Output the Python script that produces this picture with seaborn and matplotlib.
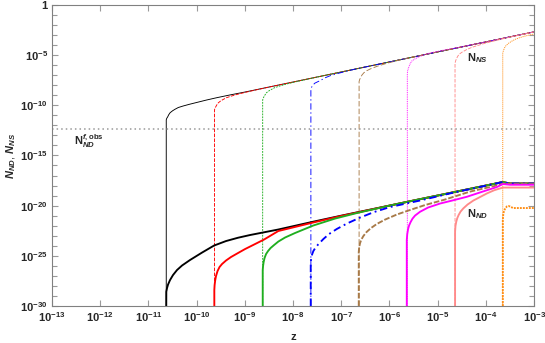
import numpy as np
import pandas as pd
import seaborn as sns
import matplotlib
matplotlib.use("Agg")
import matplotlib.pyplot as plt
from matplotlib.ticker import FixedLocator, NullFormatter

sns.set_style("ticks")
plt.rcParams["font.family"] = ["Liberation Sans", "DejaVu Sans"]
plt.rcParams["mathtext.fontset"] = "custom"
plt.rcParams["mathtext.rm"] = "Liberation Sans:bold"
plt.rcParams["mathtext.bf"] = "Liberation Sans:bold"
plt.rcParams["mathtext.it"] = "Liberation Sans:italic:bold"

# log10(z), log10(N)
# upper family: N_NS
ns_black = ([-10.63, -10.63, -10.62, -10.6, -10.58, -10.55, -10.5, -10.45, -10.38, -10.28, -10.15, -10.0, -9.8, -9.58, -9.3, -9.0, -8.3, -7.0, -5.0, -3.0],
            [-30.0, -11.45, -11.3, -11.15, -10.95, -10.74, -10.55, -10.4, -10.22, -10.07, -9.9, -9.72, -9.48, -9.24, -8.96, -8.68, -7.98, -6.68, -4.68, -2.68])
ns_red = ([-9.63, -9.63, -9.62, -9.6, -9.58, -9.55, -9.5, -9.45, -9.38, -9.28, -9.15, -9.0, -8.8, -8.6, -8.3, -8.0, -6.0, -4.0, -3.0],
          [-30.0, -10.47, -10.3, -10.12, -9.95, -9.75, -9.56, -9.42, -9.24, -9.08, -8.9, -8.72, -8.5, -8.29, -7.98, -7.68, -5.68, -3.68, -2.68])
ns_green = ([-8.63, -8.63, -8.62, -8.6, -8.58, -8.55, -8.5, -8.45, -8.38, -8.28, -8.15, -8.0, -7.8, -7.6, -7.3, -7.0, -5.0, -3.0],
            [-30.0, -9.47, -9.3, -9.12, -8.95, -8.74, -8.56, -8.42, -8.24, -8.08, -7.9, -7.72, -7.5, -7.29, -6.98, -6.68, -4.68, -2.68])
ns_blue = ([-7.63, -7.63, -7.61, -7.58, -7.55, -7.5, -7.43, -7.33, -7.23, -7.05, -6.89, -6.7, -6.5, -6.0, -4.0, -3.0],
           [-30.0, -8.4, -8.15, -7.95, -7.8, -7.68, -7.52, -7.25, -7.05, -6.8, -6.6, -6.38, -6.18, -5.68, -3.68, -2.68])
ns_brown = ([-6.63, -6.63, -6.62, -6.6, -6.57, -6.53, -6.47, -6.4, -6.25, -6.06, -5.82, -5.5, -5.0, -3.0],
            [-30.0, -7.64, -7.45, -7.25, -6.98, -6.75, -6.55, -6.38, -6.1, -5.82, -5.52, -5.18, -4.68, -2.68])
ns_magenta = ([-5.63, -5.63, -5.62, -5.6, -5.57, -5.54, -5.48, -5.4, -5.3, -5.19, -4.9, -4.6, -4.0, -3.0],
              [-30.0, -6.8, -6.5, -6.2, -5.85, -5.6, -5.4, -5.2, -5.0, -4.82, -4.52, -4.26, -3.68, -2.68])
ns_pink = ([-4.64, -4.64, -4.63, -4.61, -4.58, -4.55, -4.5, -4.4, -4.29, -4.05, -3.81, -3.5, -3.0],
           [-30.0, -5.82, -5.6, -5.35, -5.08, -4.9, -4.72, -4.45, -4.22, -3.86, -3.56, -3.2, -2.68])
ns_orange = ([-3.65, -3.65, -3.64, -3.62, -3.6, -3.57, -3.52, -3.46, -3.39, -3.3, -3.2, -3.1, -3.0],
             [-30.0, -4.82, -4.6, -4.35, -4.15, -3.99, -3.78, -3.6, -3.42, -3.26, -3.12, -3.0, -2.89])

# lower family: N_ND
nd_black = ([-10.63, -10.629, -10.614, -10.593, -10.552, -10.49, -10.407, -10.303, -10.137, -9.888, -9.639, -9.39, -9.141, -8.892, -8.305, -7.579, -7.0, -5.61, -3.65, -3.5, -3.0],
            [-30.0, -28.58, -28.22, -27.87, -27.42, -26.92, -26.42, -25.97, -25.42, -24.68, -23.98, -23.53, -23.2, -22.93, -22.38, -21.6, -21.0, -19.6, -17.65, -17.8, -17.8])
nd_red = ([-9.633, -9.633, -9.627, -9.614, -9.598, -9.566, -9.525, -9.473, -9.39, -9.286, -9.162, -8.996, -8.809, -8.602, -8.305, -7.579, -7.0, -5.61, -3.65, -3.5, -3.0],
          [-30.0, -28.41, -27.92, -27.42, -27.02, -26.52, -26.12, -25.82, -25.47, -25.12, -24.78, -24.33, -23.88, -23.38, -22.53, -21.68, -21.03, -19.6, -17.65, -17.8, -17.8])
nd_green = ([-8.629, -8.629, -8.622, -8.61, -8.591, -8.56, -8.519, -8.467, -8.394, -8.305, -8.166, -7.959, -7.579, -7.129, -6.678, -5.988, -5.61, -3.65, -3.5, -3.0],
            [-30.0, -26.42, -26.02, -25.62, -25.22, -24.83, -24.53, -24.23, -23.93, -23.58, -23.18, -22.73, -21.98, -21.29, -20.74, -19.99, -19.6, -17.65, -17.8, -17.8])
nd_blue = ([-7.633, -7.633, -7.622, -7.606, -7.579, -7.544, -7.481, -7.371, -7.253, -7.093, -6.88, -6.61, -6.32, -5.988, -5.365, -4.743, -3.65, -3.5, -3.0],
           [-30.0, -25.62, -25.22, -24.88, -24.53, -24.26, -23.88, -23.33, -22.83, -22.33, -21.78, -21.19, -20.64, -20.14, -19.49, -18.78, -17.65, -17.8, -17.8])
nd_brown = ([-6.637, -6.637, -6.627, -6.61, -6.583, -6.541, -6.475, -6.382, -6.263, -6.091, -5.849, -5.608, -5.261, -4.846, -4.328, -3.71, -3.643, -3.5, -3.0],
            [-30.0, -24.63, -24.13, -23.73, -23.38, -23.03, -22.63, -22.23, -21.83, -21.39, -20.89, -20.49, -19.94, -19.39, -18.6, -17.92, -17.8, -17.85, -17.85])
nd_magenta = ([-5.641, -5.641, -5.631, -5.614, -5.593, -5.562, -5.521, -5.469, -5.365, -5.199, -4.95, -4.68, -4.396, -4.079, -3.774, -3.649, -3.498, -3.0],
              [-30.0, -23.43, -22.83, -22.33, -21.98, -21.64, -21.29, -20.99, -20.61, -20.19, -19.79, -19.47, -19.12, -18.62, -18.15, -17.85, -17.92, -17.92])
nd_pink = ([-4.639, -4.639, -4.631, -4.614, -4.593, -4.566, -4.525, -4.467, -4.38, -4.259, -4.12, -3.981, -3.83, -3.705, -3.643, -3.0],
           [-30.0, -22.6, -22.03, -21.59, -21.24, -20.94, -20.59, -20.27, -19.89, -19.49, -19.14, -18.79, -18.47, -18.28, -18.2, -18.2])
nd_orange = ([-3.649, -3.649, -3.639, -3.622, -3.591, -3.56, -3.529, -3.498, -3.436, -3.332, -3.0],
             [-30.0, -21.44, -20.84, -20.49, -20.22, -20.07, -20.04, -20.09, -20.24, -20.24, -20.24])

n_obs = -12.36
xticks_exp = list(range(-13, -2))
yticks_exp = [0, -5, -10, -15, -20, -25, -30]

colors = ["#000000", "#ff0000", "#1fae1f", "#0000ff", "#a87a48", "#ff00ff", "#ff8a8a", "#ff8c10"]
ns_series = [ns_black, ns_red, ns_green, ns_blue, ns_brown, ns_magenta, ns_pink, ns_orange]
nd_series = [nd_black, nd_red, nd_green, nd_blue, nd_brown, nd_magenta, nd_pink, nd_orange]
thin_ls = ["-", (0, (4, 1.5)), (0, (2, 1.2)), (0, (7, 3, 1.5, 3)), (0, (6, 2.5)),
           (0, (1, 1)), (0, (4, 1.5)), (0, (1.2, 1))]
thick_ls = ["-", "-", "-", (0, (4, 2, 1, 2)), (0, (3, 1)), "-", "-", (0, (1, 0.6))]

fig = plt.figure(figsize=(5.45, 3.43), dpi=100)
ax = fig.add_axes([0.0954, 0.108, 0.8846, 0.8775])
ax.set_xscale("log")
ax.set_yscale("log")

for (lz, ln), c, ls in zip(ns_series, colors, thin_ls):
    sns.lineplot(x=10.0 ** np.array(lz), y=10.0 ** np.array(ln), sort=False, estimator=None,
                 color=c, linestyle=ls, lw=0.65, ax=ax)
for (lz, ln), c, ls in zip(nd_series, colors, thick_ls):
    sns.lineplot(x=10.0 ** np.array(lz), y=10.0 ** np.array(ln), sort=False, estimator=None,
                 color=c, linestyle=ls, lw=1.35, ax=ax)

ax.axhline(10.0 ** n_obs, color="#999999", ls=(0, (1, 2)), lw=1.1)

ax.set_xlim(1e-13, 1e-3)
ax.set_ylim(1e-30, 1)

ax.xaxis.set_major_locator(FixedLocator([10.0 ** e for e in xticks_exp]))
ax.xaxis.set_minor_locator(FixedLocator([]))
ax.set_xticklabels([r"$10^{%d}$" % e for e in xticks_exp])
ax.yaxis.set_major_locator(FixedLocator([10.0 ** e for e in yticks_exp]))
ax.yaxis.set_minor_locator(FixedLocator([10.0 ** e for e in range(-29, 0)]))
ax.yaxis.set_minor_formatter(NullFormatter())
ax.set_yticklabels(["1" if e == 0 else r"$10^{%d}$" % e for e in yticks_exp])

for s in ax.spines.values():
    s.set_color("#808080")
    s.set_linewidth(0.8)
ax.tick_params(which="both", direction="in", top=True, right=True, color="#9a9a9a",
               width=0.8, labelsize=8, pad=3)
ax.tick_params(which="major", length=4)
ax.tick_params(which="minor", length=3.5)
for lab in ax.get_xticklabels() + ax.get_yticklabels():
    lab.set_fontweight("bold")

ax.set_xlabel("z", fontsize=8, fontweight="bold", labelpad=6)
ax.set_ylabel(r"$N_{ND}$, $N_{NS}$", fontsize=8, labelpad=2)

ax.text(10.0 ** -4.39, 10.0 ** -5.6, r"$\mathrm{N}_{NS}$", fontsize=8)
ax.text(10.0 ** -4.39, 10.0 ** -21.2, r"$\mathrm{N}_{ND}$", fontsize=8)
ax.text(2.8e-13, 10.0 ** -14.0, r"$\mathrm{N}_{ND}^{f,\mathrm{obs}}$", fontsize=8)

fig.savefig("out.png", dpi=100)
